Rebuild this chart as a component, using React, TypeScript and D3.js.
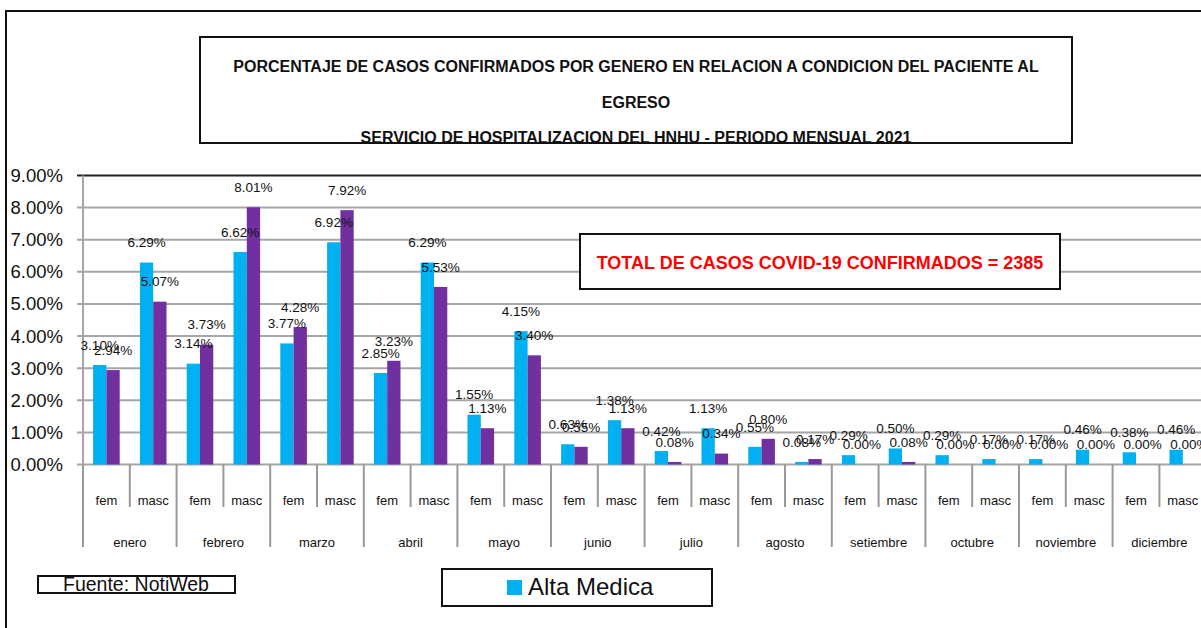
import React, { useEffect, useRef } from 'react';
import * as d3 from 'd3';

const meses = ['enero', 'febrero', 'marzo', 'abril', 'mayo', 'junio', 'julio', 'agosto', 'setiembre', 'octubre', 'noviembre', 'diciembre'];
const generos = ['fem', 'masc'];
// porcentajes por mes y genero (fem, masc, fem, masc ...)
const altaMedica = [3.10, 6.29, 3.14, 6.62, 3.77, 6.92, 2.85, 6.29, 1.55, 4.15, 0.63, 1.38, 0.42, 1.13, 0.55, 0.08, 0.29, 0.50, 0.29, 0.17, 0.17, 0.46, 0.38, 0.46];
const otraCondicion = [2.94, 5.07, 3.73, 8.01, 4.28, 7.92, 3.23, 5.53, 1.13, 3.40, 0.55, 1.13, 0.08, 0.34, 0.80, 0.17, 0.00, 0.08, 0.00, 0.00, 0.00, 0.00, 0.00, 0.00];
const yTicks = [0, 1, 2, 3, 4, 5, 6, 7, 8, 9];

const titulo = [
  'PORCENTAJE DE CASOS CONFIRMADOS POR GENERO EN RELACION A CONDICION DEL PACIENTE AL',
  'EGRESO',
  'SERVICIO DE HOSPITALIZACION DEL HNHU - PERIODO MENSUAL 2021',
];
const totalTexto = 'TOTAL DE CASOS COVID-19 CONFIRMADOS = 2385';
const fuente = 'Fuente: NotiWeb';
const leyenda = 'Alta Medica';

const FONT = "'Liberation Sans', Arial, sans-serif";

const App = () => {
  const ref = useRef<SVGSVGElement | null>(null);

  useEffect(() => {
    const width = 1201;
    const height = 628;
    const left = 83;
    const right = 1206.2;
    const top = 175.5;
    const bottom = 464.5;

    const svg = d3.select(ref.current).attr('width', width).attr('height', height);
    svg.selectAll('*').remove();

    svg.append('rect').attr('width', width).attr('height', height).attr('fill', '#fff');

    const cats = meses.flatMap(m => generos.map(g => `${m}|${g}`));
    const x = d3.scaleBand().domain(cats).range([left, right]).paddingInner(0).paddingOuter(0);
    const xSub = d3.scaleBand().domain(['alta', 'otra']).range([0, x.bandwidth()]).paddingInner(0).paddingOuter(0.76);
    const y = d3.scaleLinear().domain([0, 9]).range([bottom, top]);

    // gridlines
    svg.append('g')
      .selectAll('line')
      .data(yTicks)
      .enter()
      .append('line')
      .attr('x1', left - 6)
      .attr('x2', right)
      .attr('y1', d => y(d))
      .attr('y2', d => y(d))
      .attr('stroke', d => (d === 9 ? '#222' : '#a6a6a6'))
      .attr('stroke-width', 2);

    svg.append('line')
      .attr('x1', left).attr('x2', left)
      .attr('y1', y(9)).attr('y2', y(0))
      .attr('stroke', '#a6a6a6').attr('stroke-width', 2);

    svg.append('g')
      .selectAll('text')
      .data(yTicks)
      .enter()
      .append('text')
      .attr('x', 63)
      .attr('y', d => y(d))
      .attr('dy', '0.35em')
      .attr('text-anchor', 'end')
      .style('font-family', FONT)
      .style('font-size', '18.5px')
      .style('fill', '#111')
      .text(d => `${d.toFixed(2)}%`);

    // x axis separators
    const bw = x.bandwidth();
    svg.append('g')
      .selectAll('line')
      .data(d3.range(cats.length + 1))
      .enter()
      .append('line')
      .attr('x1', i => left + i * bw)
      .attr('x2', i => left + i * bw)
      .attr('y1', y(0))
      .attr('y2', i => (i % 2 === 0 ? 547 : 507))
      .attr('stroke', '#999')
      .attr('stroke-width', 2);

    svg.append('g')
      .selectAll('text')
      .data(cats)
      .enter()
      .append('text')
      .attr('x', d => (x(d) as number) + bw / 2)
      .attr('y', 500)
      .attr('dy', '0.35em')
      .attr('text-anchor', 'middle')
      .style('font-family', FONT)
      .style('font-size', '13px')
      .style('fill', '#111')
      .text(d => d.split('|')[1]);

    svg.append('g')
      .selectAll('text')
      .data(meses)
      .enter()
      .append('text')
      .attr('x', m => (x(`${m}|fem`) as number) + bw)
      .attr('y', 542)
      .attr('dy', '0.35em')
      .attr('text-anchor', 'middle')
      .style('font-family', FONT)
      .style('font-size', '13px')
      .style('fill', '#111')
      .text(m => m);

    // bars
    const series = [
      { key: 'alta', values: altaMedica, color: '#00b0f0' },
      { key: 'otra', values: otraCondicion, color: '#7030a0' },
    ];

    series.forEach(s => {
      const g = svg.append('g');
      g.selectAll('rect')
        .data(s.values)
        .enter()
        .append('rect')
        .attr('x', (v, i) => (x(cats[i]) as number) + (xSub(s.key) as number))
        .attr('y', v => y(v))
        .attr('width', xSub.bandwidth())
        .attr('height', v => y(0) - y(v))
        .attr('fill', s.color);
    });

    series.forEach(s => {
      svg.append('g')
        .selectAll('text')
        .data(s.values)
        .enter()
        .append('text')
        .attr('x', (v, i) => (x(cats[i]) as number) + (xSub(s.key) as number) + xSub.bandwidth() / 2)
        .attr('y', v => y(v) - 20)
        .attr('dy', '0.35em')
        .attr('text-anchor', 'middle')
        .style('font-family', FONT)
        .style('font-size', '13.5px')
        .style('fill', '#111')
        .text(v => `${v.toFixed(2)}%`);
    });

    // total box
    svg.append('rect')
      .attr('x', 580).attr('y', 234).attr('width', 480).attr('height', 55)
      .attr('fill', '#fff').attr('stroke', '#111').attr('stroke-width', 2);
    svg.append('text')
      .attr('x', 820).attr('y', 269)
      .attr('text-anchor', 'middle')
      .style('font-family', FONT)
      .style('font-weight', 'bold')
      .style('font-size', '18px')
      .style('fill', '#ff0000')
      .text(totalTexto);

    // title box
    svg.append('rect')
      .attr('x', 200).attr('y', 37).attr('width', 872).attr('height', 106)
      .attr('fill', '#fff').attr('stroke', '#111').attr('stroke-width', 2);
    svg.append('g')
      .selectAll('text')
      .data(titulo)
      .enter()
      .append('text')
      .attr('x', 636)
      .attr('y', (d, i) => 72 + i * 35.5)
      .attr('text-anchor', 'middle')
      .style('font-family', FONT)
      .style('font-weight', 'bold')
      .style('font-size', '16px')
      .style('fill', '#111')
      .text(d => d);

    // fuente
    svg.append('text')
      .attr('x', 63).attr('y', 591)
      .style('font-family', FONT)
      .style('font-size', '19.5px')
      .style('fill', '#111')
      .text(fuente);
    svg.append('rect')
      .attr('x', 38).attr('y', 576).attr('width', 197).attr('height', 17)
      .attr('fill', 'none').attr('stroke', '#111').attr('stroke-width', 2);

    // legend
    svg.append('rect')
      .attr('x', 442).attr('y', 569).attr('width', 270).attr('height', 37)
      .attr('fill', '#fff').attr('stroke', '#111').attr('stroke-width', 2);
    svg.append('rect')
      .attr('x', 507).attr('y', 580).attr('width', 15).attr('height', 15)
      .attr('fill', '#00b0f0');
    svg.append('text')
      .attr('x', 528).attr('y', 595)
      .style('font-family', FONT)
      .style('font-size', '24px')
      .style('fill', '#111')
      .text(leyenda);

    // outer border
    svg.append('rect')
      .attr('x', 6).attr('y', 11).attr('width', 1230).attr('height', 650)
      .attr('fill', 'none').attr('stroke', '#111').attr('stroke-width', 2);
  }, []);

  return (
    <div style={{ position: 'absolute', left: 0, top: 0 }}>
      <svg ref={ref} style={{ display: 'block' }}></svg>
    </div>
  );
};

export default App;
